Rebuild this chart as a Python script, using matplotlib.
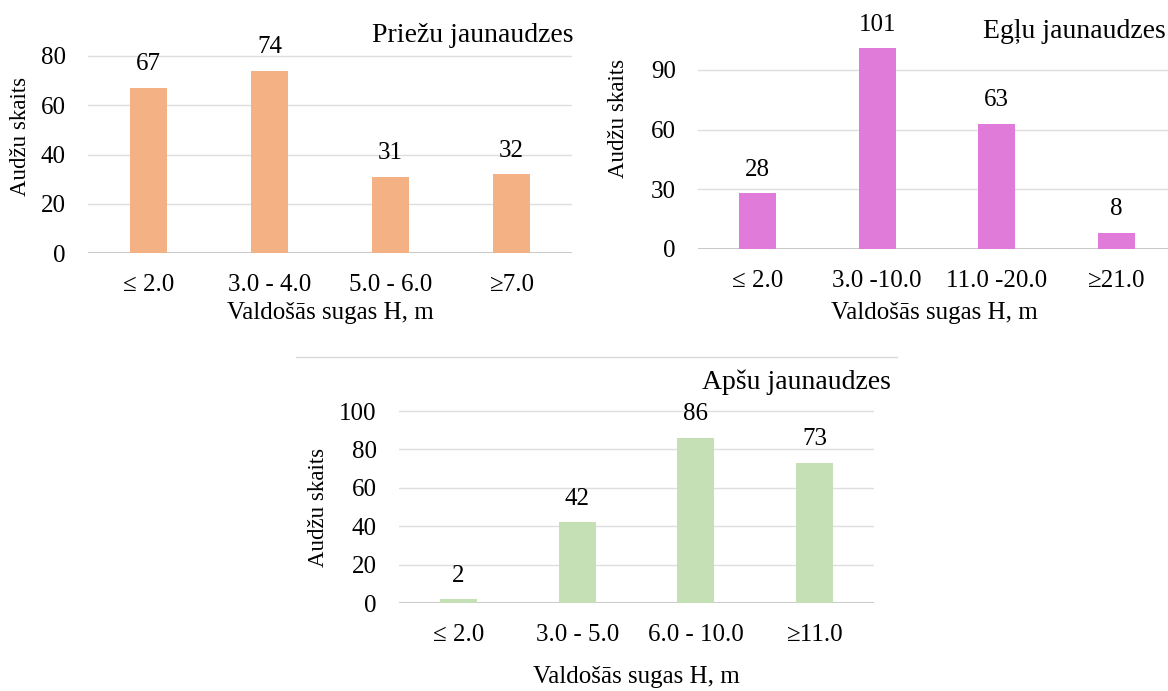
import matplotlib
matplotlib.use("Agg")
import matplotlib.pyplot as plt

W, H = 1168, 691

# data
pine_cats = ["≤ 2.0", "3.0 - 4.0", "5.0 - 6.0", "≥7.0"]
pine_vals = [67, 74, 31, 32]
spruce_cats = ["≤ 2.0", "3.0 -10.0", "11.0 -20.0", "≥21.0"]
spruce_vals = [28, 101, 63, 8]
aspen_cats = ["≤ 2.0", "3.0 - 5.0", "6.0 - 10.0", "≥11.0"]
aspen_vals = [2, 42, 86, 73]

plt.rcParams["font.family"] = ["Liberation Serif", "DejaVu Serif"]
FS = 18


def fx(px):
    return px / W


def fy(py):
    return 1 - py / H


def panel(fig, cats, vals, color, left, right, zero, tick_px, tick_val, ymax,
          yticks, title, title_xy, ylab_xy, xlab_xy):
    per = (zero - tick_px) / tick_val
    top = zero - ymax * per
    ax = fig.add_axes([fx(left), fy(zero), (right - left) / W, (zero - top) / H])
    x = range(len(cats))
    bars = ax.bar(x, vals, width=0.31, color=color, zorder=3)
    for b, v in zip(bars, vals):
        ax.annotate(str(v), (b.get_x() + b.get_width() / 2, v),
                    xytext=(0, 17), textcoords="offset points",
                    ha="center", va="center", fontsize=FS)
    ax.set_xlim(-0.5, len(cats) - 0.5)
    ax.set_ylim(0, ymax)
    ax.set_yticks(yticks)
    ax.set_xticks(list(x))
    ax.set_xticklabels(cats)
    ax.tick_params(length=0, labelsize=FS)
    ax.tick_params(axis="y", pad=16)
    ax.tick_params(axis="x", pad=15)
    for s in ax.spines.values():
        s.set_visible(False)
    ax.yaxis.grid(True, color="#dedede", linewidth=1.0, zorder=0)
    ax.axhline(0, color="#c4c4c4", linewidth=1.3, zorder=2)
    ax.patch.set_alpha(0)
    fig.text(fx(title_xy[0]), fy(title_xy[1]), title, ha="right", va="center",
             fontsize=20)
    fig.text(fx(ylab_xy[0]), fy(ylab_xy[1]), "Audžu skaits", rotation=90,
             ha="center", va="center", fontsize=16.5)
    fig.text(fx(xlab_xy[0]), fy(xlab_xy[1]), "Valdošās sugas H, m",
             ha="center", va="center", fontsize=FS)
    return ax


fig = plt.figure(figsize=(W / 100, H / 100), dpi=100)

panel(fig, pine_cats, pine_vals, "#f4b183", 88, 572, 253, 56, 80, 90,
      [0, 20, 40, 60, 80], "Priežu jaunaudzes", (573, 35), (21, 136), (330, 313))
panel(fig, spruce_cats, spruce_vals, "#e07bd9", 698, 1176, 249, 70, 90, 115,
      [0, 30, 60, 90], "Egļu jaunaudzes", (1166, 31), (619, 118), (934, 313))
panel(fig, aspen_cats, aspen_vals, "#c5e0b4", 399, 874, 603, 411, 100, 110,
      [0, 20, 40, 60, 80, 100], "Apšu jaunaudzes", (891, 382), (318, 507), (636, 677))

# border line at top of the lower chart
fig.add_artist(plt.Line2D([fx(296), fx(897)], [fy(357), fy(357)],
                          color="#d9d9d9", linewidth=1.0))

fig.savefig("out.png", dpi=100)
